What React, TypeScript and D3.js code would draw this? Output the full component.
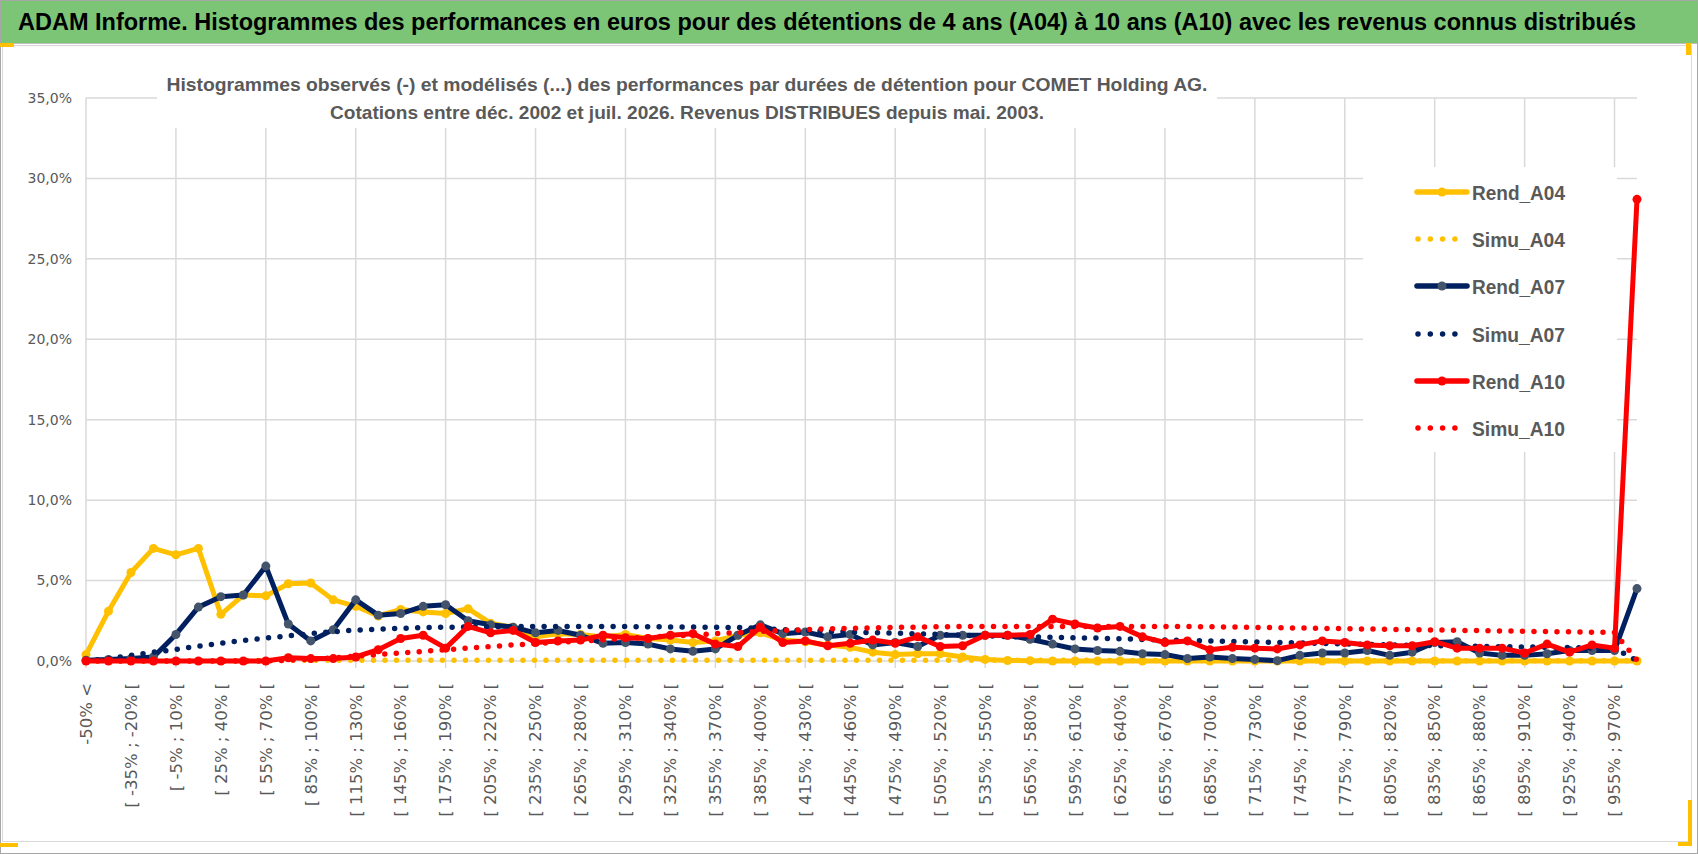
import { useMemo } from "react";
import * as d3 from "d3";

const WIDTH = 1698;
const HEIGHT = 854;

const MAIN_TITLE =
    "ADAM Informe. Histogrammes des performances en euros pour des détentions de 4 ans (A04) à 10 ans (A10) avec les revenus connus distribués";
const SUB_TITLE = [
    "Histogrammes observés (-) et modélisés (...) des performances par durées de détention pour COMET Holding AG.",
    "Cotations entre déc. 2002 et juil. 2026. Revenus DISTRIBUES depuis mai. 2003.",
];

// classes de performance (une étiquette sur deux est affichée)
const categories = [
    "-50% <",
    "[ -50% ; -35% [", "[ -35% ; -20% [", "[ -20% ; -5% [", "[ -5% ; 10% [", "[ 10% ; 25% [",
    "[ 25% ; 40% [", "[ 40% ; 55% [", "[ 55% ; 70% [", "[ 70% ; 85% [", "[ 85% ; 100% [",
    "[ 100% ; 115% [", "[ 115% ; 130% [", "[ 130% ; 145% [", "[ 145% ; 160% [", "[ 160% ; 175% [",
    "[ 175% ; 190% [", "[ 190% ; 205% [", "[ 205% ; 220% [", "[ 220% ; 235% [", "[ 235% ; 250% [",
    "[ 250% ; 265% [", "[ 265% ; 280% [", "[ 280% ; 295% [", "[ 295% ; 310% [", "[ 310% ; 325% [",
    "[ 325% ; 340% [", "[ 340% ; 355% [", "[ 355% ; 370% [", "[ 370% ; 385% [", "[ 385% ; 400% [",
    "[ 400% ; 415% [", "[ 415% ; 430% [", "[ 430% ; 445% [", "[ 445% ; 460% [", "[ 460% ; 475% [",
    "[ 475% ; 490% [", "[ 490% ; 505% [", "[ 505% ; 520% [", "[ 520% ; 535% [", "[ 535% ; 550% [",
    "[ 550% ; 565% [", "[ 565% ; 580% [", "[ 580% ; 595% [", "[ 595% ; 610% [", "[ 610% ; 625% [",
    "[ 625% ; 640% [", "[ 640% ; 655% [", "[ 655% ; 670% [", "[ 670% ; 685% [", "[ 685% ; 700% [",
    "[ 700% ; 715% [", "[ 715% ; 730% [", "[ 730% ; 745% [", "[ 745% ; 760% [", "[ 760% ; 775% [",
    "[ 775% ; 790% [", "[ 790% ; 805% [", "[ 805% ; 820% [", "[ 820% ; 835% [", "[ 835% ; 850% [",
    "[ 850% ; 865% [", "[ 865% ; 880% [", "[ 880% ; 895% [", "[ 895% ; 910% [", "[ 910% ; 925% [",
    "[ 925% ; 940% [", "[ 940% ; 955% [", "[ 955% ; 970% [",
    "> 970%",
];

// valeurs en %
const rendA04 = [
    0.4, 3.1, 5.5, 7.0, 6.6, 7.0, 2.9, 4.1, 4.05, 4.8,
    4.85, 3.8, 3.4, 2.8, 3.2, 3.05, 2.95, 3.25, 2.35, 2.1,
    1.5, 1.7, 1.65, 1.5, 1.65, 1.4, 1.3, 1.15, 1.25, 1.6,
    1.75, 1.3, 1.2, 1.0, 0.85, 0.55, 0.4, 0.45, 0.45, 0.25,
    0.1, 0.03, 0.02, 0, 0, 0, 0, 0, 0, 0,
    0, 0, 0, 0, 0, 0, 0, 0, 0, 0,
    0, 0, 0, 0, 0, 0, 0, 0, 0, 0,
];
const simuA04 = [
    0, 0, 0, 0, 0, 0.01, 0.01, 0.02, 0.03, 0.04,
    0.05, 0.05, 0.05, 0.05, 0.05, 0.05, 0.05, 0.05, 0.05, 0.05,
    0.05, 0.05, 0.05, 0.05, 0.05, 0.05, 0.05, 0.05, 0.05, 0.05,
    0.05, 0.05, 0.05, 0.05, 0.05, 0.05, 0.05, 0.05, 0.05, 0.05,
    0.04, 0.04, 0.04, 0.04, 0.04, 0.04, 0.03, 0.03, 0.03, 0.03,
    0.03, 0.03, 0.03, 0.02, 0.02, 0.02, 0.02, 0.02, 0.02, 0.02,
    0.02, 0.02, 0.02, 0.02, 0.02, 0.02, 0.02, 0.02, 0.02, 0.02,
];
const rendA07 = [
    0.05, 0.1, 0.15, 0.25, 1.65, 3.35, 4.0, 4.1, 5.9, 2.3,
    1.25, 1.95, 3.8, 2.85, 2.95, 3.4, 3.5, 2.5, 2.25, 2.1,
    1.75, 1.9, 1.6, 1.1, 1.15, 1.05, 0.75, 0.6, 0.75, 1.6,
    2.25, 1.7, 1.8, 1.5, 1.65, 1.0, 1.15, 0.9, 1.6, 1.6,
    1.6, 1.6, 1.35, 1.05, 0.75, 0.65, 0.6, 0.45, 0.4, 0.15,
    0.25, 0.15, 0.1, 0.02, 0.35, 0.5, 0.5, 0.65, 0.35, 0.55,
    1.15, 1.2, 0.5, 0.35, 0.35, 0.45, 0.65, 0.65, 0.65, 4.5,
];
const simuA07 = [
    0, 0.15, 0.35, 0.55, 0.72, 0.92, 1.1, 1.28, 1.42, 1.57,
    1.7, 1.82, 1.92, 1.98, 2.03, 2.07, 2.1, 2.12, 2.13, 2.14,
    2.15, 2.15, 2.15, 2.15, 2.14, 2.13, 2.12, 2.11, 2.1, 2.08,
    2.02, 1.95, 1.9, 1.85, 1.8, 1.77, 1.73, 1.69, 1.65, 1.6,
    1.56, 1.52, 1.5, 1.48, 1.45, 1.42, 1.38, 1.34, 1.3, 1.27,
    1.24, 1.21, 1.18, 1.15, 1.12, 1.09, 1.06, 1.03, 1.0, 0.98,
    0.95, 0.93, 0.91, 0.89, 0.87, 0.85, 0.83, 0.81, 0.8, 0.02,
];
const rendA10 = [
    0, 0, 0, 0, 0, 0, 0, 0, 0, 0.2,
    0.15, 0.15, 0.25, 0.7, 1.4, 1.6, 0.8, 2.15, 1.75, 1.9,
    1.15, 1.25, 1.3, 1.6, 1.45, 1.4, 1.6, 1.7, 1.05, 0.9,
    2.1, 1.15, 1.25, 0.95, 1.1, 1.3, 1.1, 1.5, 0.9, 0.95,
    1.6, 1.6, 1.65, 2.6, 2.3, 2.05, 2.15, 1.5, 1.15, 1.25,
    0.7, 0.85, 0.8, 0.75, 1.0, 1.25, 1.15, 1.0, 0.95, 0.95,
    1.2, 0.8, 0.8, 0.8, 0.5, 1.05, 0.55, 1.0, 0.8, 28.7,
];
const simuA10 = [
    0, 0, 0, 0, 0, 0, 0, 0, 0, 0.05,
    0.1, 0.2, 0.3, 0.4, 0.5, 0.6, 0.7, 0.8, 0.9, 1.0,
    1.08, 1.16, 1.24, 1.32, 1.4, 1.48, 1.55, 1.62, 1.7, 1.77,
    1.84, 1.9, 1.95, 2.0, 2.03, 2.06, 2.09, 2.11, 2.13, 2.14,
    2.15, 2.15, 2.15, 2.15, 2.15, 2.15, 2.15, 2.15, 2.15, 2.14,
    2.13, 2.11, 2.09, 2.07, 2.05, 2.03, 2.01, 1.99, 1.97, 1.95,
    1.93, 1.91, 1.89, 1.87, 1.85, 1.83, 1.81, 1.79, 1.77, 0.05,
];

const yTicks = [0, 5, 10, 15, 20, 25, 30, 35];

type Serie = {
    name: string;
    values: number[];
    color: string;
    marker?: string;
    dotted?: boolean;
};

const series: Serie[] = [
    { name: "Rend_A04", values: rendA04, color: "#FFC000", marker: "#FFC000" },
    { name: "Simu_A04", values: simuA04, color: "#FFC000", dotted: true },
    { name: "Rend_A07", values: rendA07, color: "#002060", marker: "#44546A" },
    { name: "Simu_A07", values: simuA07, color: "#002060", dotted: true },
    { name: "Rend_A10", values: rendA10, color: "#FF0000", marker: "#FF0000" },
    { name: "Simu_A10", values: simuA10, color: "#FF0000", dotted: true },
];

const PLOT = { left: 86, right: 1637, top: 98, bottom: 661 };
const GRID = "#D9D9D9";
const TEXT = "#595959";
const YELLOW = "#FFC000";

const fr = d3.formatLocale({ decimal: ",", thousands: " ", grouping: [3], currency: ["", "€"] });
const fmtPct = fr.format(".1f");

export default function App() {
    const x = useMemo(() => d3.scalePoint<string>().domain(categories).range([PLOT.left, PLOT.right]), []);
    const y = useMemo(() => d3.scaleLinear().domain([0, 35]).range([PLOT.bottom, PLOT.top]), []);

    const line = useMemo(
        () =>
            d3
                .line<number>()
                .x((_, i) => x(categories[i])!)
                .y((d) => y(d)),
        [x, y]
    );

    const legendY = [192, 239, 286, 334, 381, 428];

    return (
        <svg width={WIDTH} height={HEIGHT} style={{ position: "absolute", left: 0, top: 0, background: "#fff" }}>
            {/* bandeau titre */}
            <rect x={0} y={0} width={WIDTH} height={43} fill="#7CC576" />
            <line x1={0} x2={WIDTH} y1={43.5} y2={43.5} stroke="#BFBFBF" />
            <text
                x={18}
                y={30}
                fontFamily="'Liberation Sans', Arial, sans-serif"
                fontWeight="bold"
                fontSize={23}
                fill="#000"
                textLength={1618}
                lengthAdjust="spacingAndGlyphs"
            >
                {MAIN_TITLE}
            </text>

            {/* cadre du graphique */}
            <rect x={2.5} y={45.5} width={WIDTH - 9} height={796} fill="none" stroke={GRID} />
            <rect x={0.5} y={0.5} width={WIDTH - 1} height={HEIGHT - 1} fill="none" stroke="#A6A6A6" />

            {/* grille horizontale */}
            {yTicks.map((t) => (
                <g key={t}>
                    <line x1={PLOT.left} x2={PLOT.right} y1={y(t)} y2={y(t)} stroke={GRID} strokeWidth={1.5} />
                    <text
                        x={72}
                        y={y(t)}
                        dy="0.35em"
                        textAnchor="end"
                        fontFamily="'DejaVu Sans', Verdana, sans-serif"
                        fontSize={14}
                        fill={TEXT}
                    >
                        {fmtPct(t) + "%"}
                    </text>
                </g>
            ))}

            {/* grille verticale */}
            {categories.map((c, i) =>
                i % 4 === 0 ? (
                    <line
                        key={c}
                        x1={x(c)}
                        x2={x(c)}
                        y1={PLOT.top}
                        y2={PLOT.bottom + 7}
                        stroke={GRID}
                        strokeWidth={1.5}
                    />
                ) : null
            )}

            {/* étiquettes de l'axe des catégories */}
            {categories.map((c, i) =>
                i % 2 === 0 ? (
                    <text
                        key={c}
                        transform={`translate(${x(c)},${PLOT.bottom + 22}) rotate(-90)`}
                        dy="0.35em"
                        textAnchor="end"
                        fontFamily="'DejaVu Sans', Verdana, sans-serif"
                        fontSize={16.5}
                        fill={TEXT}
                    >
                        {c}
                    </text>
                ) : null
            )}

            {/* titre du graphique (fond blanc) */}
            <rect x={157} y={60} width={1060} height={68} fill="#fff" />
            {SUB_TITLE.map((s, i) => (
                <text
                    key={i}
                    x={687}
                    y={[91, 119][i]}
                    textAnchor="middle"
                    fontFamily="'Liberation Sans', Arial, sans-serif"
                    fontWeight="bold"
                    fontSize={19}
                    fill={TEXT}
                    textLength={[1041, 714][i]}
                    lengthAdjust="spacingAndGlyphs"
                >
                    {s}
                </text>
            ))}

            {/* séries */}
            {series.map((s) => (
                <g key={s.name}>
                    <path
                        d={line(s.values)!}
                        fill="none"
                        stroke={s.color}
                        strokeWidth={s.dotted ? 5.5 : 5}
                        strokeLinecap="round"
                        strokeLinejoin="round"
                        strokeDasharray={s.dotted ? "0 11.5" : undefined}
                    />
                    {s.marker &&
                        s.values.map((v, i) => (
                            <circle key={i} cx={x(categories[i])} cy={y(v)} r={4.5} fill={s.marker} />
                        ))}
                </g>
            ))}

            {/* légende */}
            <rect x={1363} y={167} width={254} height={285} fill="#fff" />
            {series.map((s, i) => (
                <g key={s.name} transform={`translate(0,${legendY[i]})`}>
                    {s.dotted ? (
                        <line
                            x1={1418}
                            x2={1456}
                            y1={0}
                            y2={0}
                            stroke={s.color}
                            strokeWidth={5.5}
                            strokeLinecap="round"
                            strokeDasharray="0 12.3"
                        />
                    ) : (
                        <>
                            <line x1={1417} x2={1467} y1={0} y2={0} stroke={s.color} strokeWidth={5.5} strokeLinecap="round" />
                            <circle cx={1442} cy={0} r={4.5} fill={s.marker} />
                        </>
                    )}
                    <text
                        x={1472}
                        y={8}
                        fontFamily="'Liberation Sans', Arial, sans-serif"
                        fontWeight="bold"
                        fontSize={21}
                        fill={TEXT}
                        textLength={93}
                        lengthAdjust="spacingAndGlyphs"
                    >
                        {s.name}
                    </text>
                </g>
            ))}

            {/* repères jaunes des coins */}
            <rect x={0} y={43} width={14} height={4} fill={YELLOW} />
            <rect x={1686} y={43} width={5} height={12} fill={YELLOW} />
            <rect x={0} y={843} width={18} height={4} fill={YELLOW} />
            <rect x={1688} y={800} width={4} height={46} fill={YELLOW} />
            <rect x={1678} y={842} width={14} height={4} fill={YELLOW} />
        </svg>
    );
}
